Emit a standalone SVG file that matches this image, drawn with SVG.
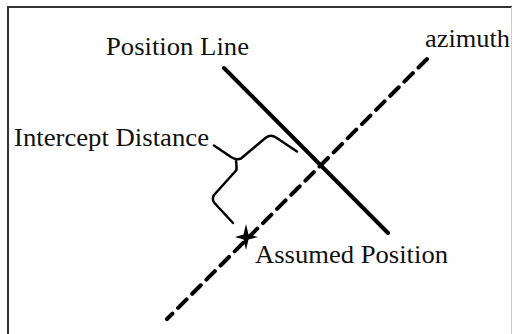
<svg xmlns="http://www.w3.org/2000/svg" width="514" height="334" viewBox="0 0 514 334">
<style>
.lbl{font-family:"Liberation Serif","Times New Roman",serif;font-size:25px;fill:#111}
.ln{stroke:#000;stroke-width:4;stroke-linecap:round;fill:none}
.brace{stroke:#000;stroke-width:2.5;fill:none;stroke-linecap:round;stroke-linejoin:round}
</style>
<rect width="514" height="334" fill="#fff"/>
<g id="frame">
<line x1="8" y1="7" x2="512" y2="7" stroke="#333" stroke-width="2"/>
<line x1="8" y1="6" x2="8" y2="334" stroke="#333" stroke-width="2"/>
<line x1="511.5" y1="7" x2="511.5" y2="334" stroke="#ccc" stroke-width="1"/>
</g>
<g id="connectors">
<line id="position-line" class="ln" x1="224" y1="68" x2="388" y2="233"/>
<line id="azimuth-line" class="ln" x1="427" y1="59" x2="167" y2="319" stroke-dasharray="12 8" stroke-linecap="butt"/>
<path id="brace" class="brace" d="M214,145.5 L231,157 Q236,160.5 241,158.5 L266,137.5 Q271,134 276,137.5 L297,151.5 M236,161 Q236.5,163 236.5,167 L236.5,170 L214,195 Q211.5,199 214.5,203 L233,223"/>
</g>
<g id="assumed-position">
<path d="M246,224 L248.5,234.5 L258,237 L248.5,239.5 L246,250 L243.5,239.5 L235,237 L243.5,234.5 Z" fill="#000"/>
<text class="lbl" x="255" y="263" textLength="193" lengthAdjust="spacingAndGlyphs">Assumed Position</text>
</g>
<g id="position-line-label">
<text class="lbl" x="106" y="55" textLength="143" lengthAdjust="spacingAndGlyphs">Position Line</text>
</g>
<g id="azimuth-label">
<text class="lbl" x="425" y="47" textLength="85" lengthAdjust="spacingAndGlyphs">azimuth</text>
</g>
<g id="intercept-label">
<text class="lbl" x="14" y="146" textLength="195" lengthAdjust="spacingAndGlyphs">Intercept Distance</text>
</g>
</svg>
